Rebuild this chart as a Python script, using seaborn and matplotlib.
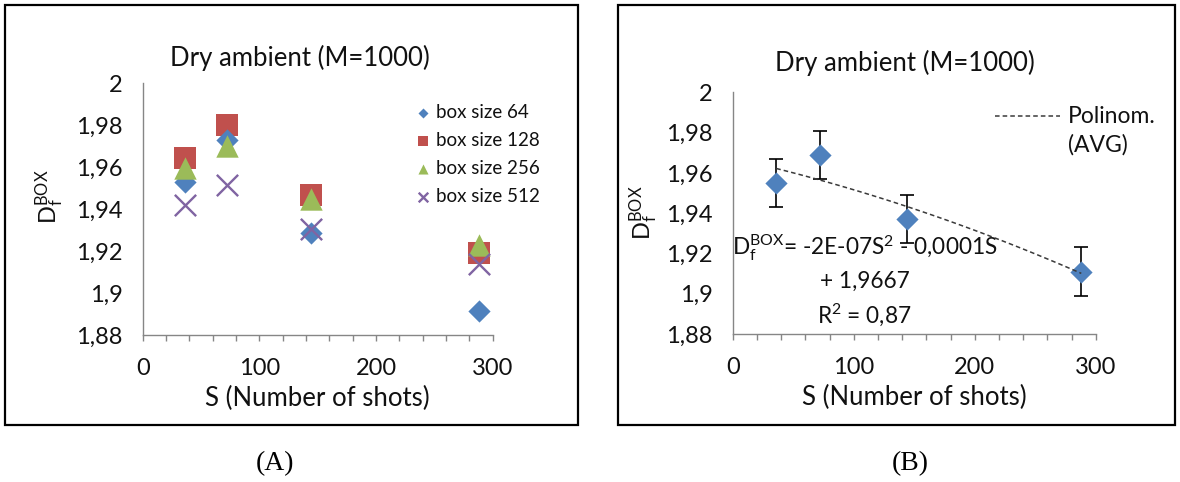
import numpy as np
import pandas as pd
import matplotlib
matplotlib.use("Agg")
import matplotlib.pyplot as plt
import seaborn as sns
from matplotlib.patches import Rectangle
from matplotlib.ticker import FixedLocator, FuncFormatter

# ---- data -------------------------------------------------------------
shots = [36, 72, 144, 288]

box_64 = [1.953, 1.973, 1.9287, 1.8916]
box_128 = [1.9646, 1.9803, 1.9467, 1.919]
box_256 = [1.9594, 1.970, 1.945, 1.9227]
box_512 = [1.9418, 1.9513, 1.9305, 1.9137]
series_labels = ["box size 64", "box size 128", "box size 256", "box size 512"]

avg = [1.955, 1.969, 1.937, 1.911]
avg_err = [0.012, 0.012, 0.012, 0.012]

y_ticks = [1.88, 1.90, 1.92, 1.94, 1.96, 1.98, 2.00]
x_major = [0, 100, 200, 300]
x_minor = [20, 40, 60, 80, 120, 140, 160, 180, 220, 240, 260, 280]

title_text = "Dry ambient (M=1000)"
x_label = "S (Number of shots)"
y_label = r"$\mathregular{D_f^{BOX}}$"
fit_label = "Polinom.\n(AVG)"
equation = (r"$\mathregular{D_f^{BOX}}$= -2E-07S$\mathregular{^2}$ - 0,0001S" "\n"
            "+ 1,9667\n"
            r"R$\mathregular{^2}$ = 0,87")

# ---- style ------------------------------------------------------------
sns.set_theme(style="white")
plt.rcParams["font.family"] = ["Lato", "DejaVu Sans"]

BLUE, RED, GREEN, PURPLE = "#4F81BD", "#C0504D", "#9BBB59", "#8064A2"
AXIS_GREY = "#868686"
TEXT = "#111111"

W, H = 1180, 482
fig = plt.figure(figsize=(W / 100, H / 100), dpi=100)


def px_axes(x0, y0, x1, y1):
    return fig.add_axes([x0 / W, 1 - y1 / H, (x1 - x0) / W, (y1 - y0) / H])


def comma_fmt(v, _pos):
    return f"{v:g}".replace(".", ",")


def style_axes(ax, ylabel_xy):
    ax.set_xlim(0, 300)
    ax.set_ylim(1.88, 2.0)
    for side in ("top", "right"):
        ax.spines[side].set_visible(False)
    for side in ("left", "bottom"):
        ax.spines[side].set_color(AXIS_GREY)
        ax.spines[side].set_linewidth(1.0)
    ax.yaxis.set_major_locator(FixedLocator(y_ticks))
    ax.yaxis.set_major_formatter(FuncFormatter(comma_fmt))
    ax.xaxis.set_major_locator(FixedLocator(x_major))
    ax.xaxis.set_minor_locator(FixedLocator(x_minor))
    ax.tick_params(axis="both", which="both", direction="out", length=4.5,
                   width=1.0, color=AXIS_GREY, labelsize=17, labelcolor=TEXT)
    ax.tick_params(axis="y", pad=10)
    ax.tick_params(axis="x", which="both", bottom=True, pad=12)
    ax.tick_params(axis="x", which="minor", labelbottom=False)
    ax.set_xlabel(x_label, fontsize=18.5, color=TEXT, labelpad=5)
    ax.set_ylabel(y_label, fontsize=17, color=TEXT, va="center")
    ax.yaxis.set_label_coords(*ylabel_xy)
    ax.grid(False)


# ---- panel A: fractal dimension per box size --------------------------
axA = px_axes(142.7, 83.3, 492.7, 335.0)

sns.scatterplot(x=shots, y=box_64, marker="D", s=128, color=BLUE,
                edgecolor=BLUE, linewidth=0, label=series_labels[0], ax=axA, zorder=3)
sns.scatterplot(x=shots, y=box_128, marker="s", s=235, color=RED,
                edgecolor=RED, linewidth=0, label=series_labels[1], ax=axA, zorder=2)
sns.scatterplot(x=shots, y=box_256, marker="^", s=260, color=GREEN,
                edgecolor=GREEN, linewidth=0, label=series_labels[2], ax=axA, zorder=4)
sns.scatterplot(x=shots, y=box_512, marker="x", s=235, color=PURPLE,
                linewidth=1.7, label=series_labels[3], ax=axA, zorder=5)

style_axes(axA, ((50 - 142.7) / 350, 1 - (197 - 83.3) / 251.7))
axA.legend(loc="upper left", bbox_to_anchor=(415 / W, 1 - 104 / H),
           bbox_transform=fig.transFigure, frameon=False, fontsize=13.5,
           markerscale=0.45, handlelength=0.8, handletextpad=0.3,
           labelspacing=0.58, borderpad=0, borderaxespad=0, labelcolor=TEXT)

# ---- panel B: average with polynomial trend ---------------------------
axB = px_axes(732.7, 92.3, 1095.8, 334.0)

axB.errorbar(shots, avg, yerr=avg_err, fmt="none", ecolor="black",
             elinewidth=1.2, capsize=4.8, capthick=1.2, zorder=2)
sns.scatterplot(x=shots, y=avg, marker="D", s=128, color=BLUE,
                edgecolor=BLUE, linewidth=0, legend=False, ax=axB, zorder=3)
sns.regplot(x=shots, y=avg, order=2, ci=None, scatter=False, truncate=True,
            label=fit_label, ax=axB,
            line_kws=dict(color="#3a3a3a", lw=1.1, ls=(0, (3, 2)), zorder=4))

style_axes(axB, ((644 - 732.7) / 363.1, 0.5))
legB = axB.legend(loc="upper left", bbox_to_anchor=(995 / W, 1 - 106 / H),
                  bbox_transform=fig.transFigure, frameon=False, fontsize=16.5,
                  handlelength=2.85, handletextpad=0.35, borderpad=0,
                  borderaxespad=0, labelcolor=TEXT, labelspacing=0.3)
for txt in legB.get_texts():
    txt.set_linespacing(1.42)
# keep the dashed sample level with the first line of the label
for ln in legB.get_lines():
    ln.set_ydata(np.asarray(ln.get_ydata()) + 11.3)

axB.text(109, 1.9066, equation, ha="center", va="center", multialignment="center",
         fontsize=16.3, color=TEXT, linespacing=1.45)

# ---- titles, frames and panel tags ------------------------------------
fig.text(300 / W, 1 - 58 / H, title_text, ha="center", va="center", fontsize=18.5, color=TEXT)
fig.text(905 / W, 1 - 63 / H, title_text, ha="center", va="center", fontsize=18.5, color=TEXT)

for x0, x1 in ((5, 578), (618, 1175)):
    fig.add_artist(Rectangle((x0 / W, 1 - 425 / H), (x1 - x0) / W, 420 / H,
                             transform=fig.transFigure, fill=False,
                             edgecolor="black", linewidth=1.6))

fig.text(275 / W, 1 - 464 / H, "(A)", ha="center", va="center", fontsize=20,
         family="Liberation Serif", color="black")
fig.text(910 / W, 1 - 464 / H, "(B)", ha="center", va="center", fontsize=20,
         family="Liberation Serif", color="black")

fig.savefig("out.png", dpi=100, facecolor="white")
